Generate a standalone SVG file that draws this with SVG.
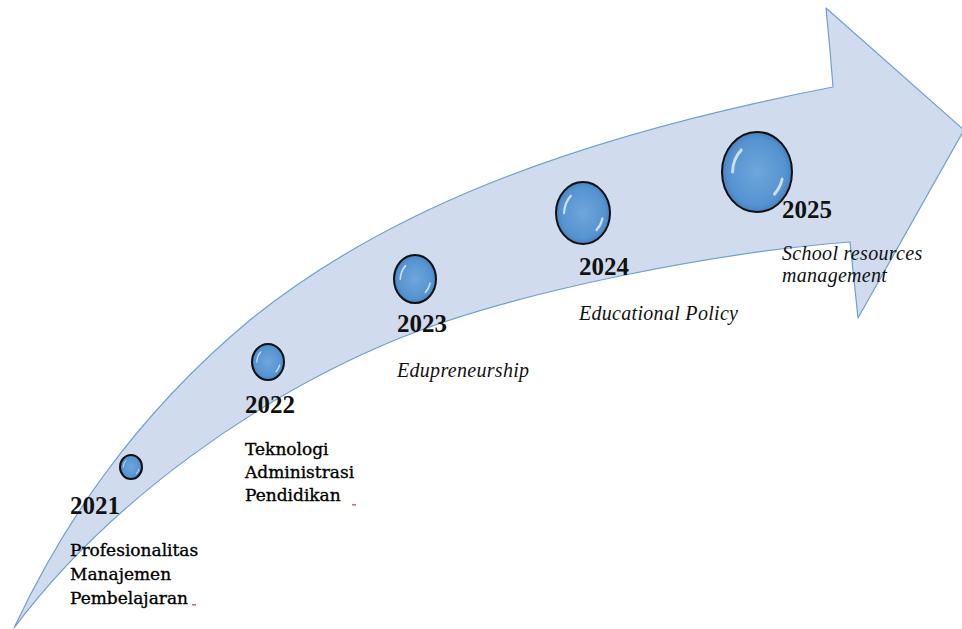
<svg xmlns="http://www.w3.org/2000/svg" xmlns:xlink="http://www.w3.org/1999/xlink" width="962" height="629" viewBox="0 0 962 629">
<style>
.year{font-family:"Liberation Serif","Times New Roman",serif;font-weight:bold;font-size:25px;fill:#111}
.lbl{font-family:"DejaVu Serif","Liberation Serif",serif;font-size:17px;fill:#000;stroke:#000;stroke-width:0.35}
.ital{font-family:"Liberation Serif","Times New Roman",serif;font-style:italic;font-size:20px;fill:#111;letter-spacing:0.3px}
.hl{fill:none;stroke:#fff;stroke-opacity:0.7;stroke-width:0.08;stroke-linecap:round}
.mark{fill:#e06060}
</style>
<defs>
<radialGradient id="bg" cx="50%" cy="50%" r="55%">
<stop offset="0" stop-color="#6fa6dc"/>
<stop offset="0.75" stop-color="#5593d0"/>
<stop offset="1" stop-color="#3f78b8"/>
</radialGradient>
<g id="bub">
<ellipse rx="1" ry="1" fill="url(#bg)" stroke="#111" stroke-width="2" vector-effect="non-scaling-stroke"/>
<path class="hl" d="M-0.7,0.0 A0.8,0.8 0 0 1 -0.45,-0.55"/>
<path class="hl" d="M0.72,0.18 A0.8,0.8 0 0 1 0.5,0.55"/>
</g>
</defs>
<rect width="962" height="629" fill="#fff"/>
<g id="arrow">
<path d="M14,628 C60,530 130,420 250,320 C380,215 560,140 833,87 L830,50 L826,8 L964,130 L858,318 L850,242 C720,252 520,290 400,338 C260,395 110,500 14,628 Z" fill="#d0dcee" stroke="#6f9fd0" stroke-width="1.2" stroke-linejoin="round"/>
</g>
<g id="connectors"/>
<g id="node-2021">
<use xlink:href="#bub" href="#bub" transform="translate(131,467) scale(11,12)"/>
<text class="year" x="70" y="514">2021</text>
<text class="lbl" x="70" y="556">Profesionalitas</text>
<text class="lbl" x="70" y="580">Manajemen</text>
<text class="lbl" x="70" y="604">Pembelajaran</text>
<rect class="mark" x="192" y="604" width="4" height="1.5"/>
</g>
<g id="node-2022">
<use xlink:href="#bub" href="#bub" transform="translate(268,362) scale(16,18)"/>
<text class="year" x="245" y="413">2022</text>
<text class="lbl" x="245" y="455">Teknologi</text>
<text class="lbl" x="245" y="478">Administrasi</text>
<text class="lbl" x="245" y="501">Pendidikan</text>
<rect class="mark" x="352" y="504" width="4" height="1.5"/>
</g>
<g id="node-2023">
<use xlink:href="#bub" href="#bub" transform="translate(415,279) scale(21,24)"/>
<text class="year" x="397" y="332">2023</text>
<text class="ital" x="397" y="377">Edupreneurship</text>
</g>
<g id="node-2024">
<use xlink:href="#bub" href="#bub" transform="translate(583,213) scale(27,31)"/>
<text class="year" x="579" y="275">2024</text>
<text class="ital" x="579" y="320">Educational Policy</text>
</g>
<g id="node-2025">
<use xlink:href="#bub" href="#bub" transform="translate(757,172) scale(35,40)"/>
<text class="year" x="782" y="218">2025</text>
<text class="ital" x="782" y="260">School resources</text>
<text class="ital" x="782" y="282">management</text>
</g>
</svg>
